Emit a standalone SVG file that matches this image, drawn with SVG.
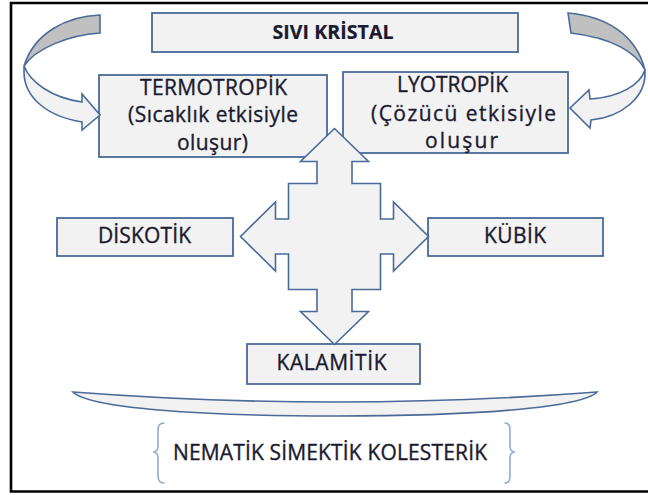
<svg xmlns="http://www.w3.org/2000/svg" width="648" height="495" viewBox="0 0 648 495">
<style>
.box{fill:#f2f2f2;stroke:#4a6a99;stroke-width:1.8}
.shape{fill:#f2f2f2;stroke:#4a6a99;stroke-width:1.6;stroke-linejoin:miter}
.back{fill:#c0c0c0;stroke:#4a6a99;stroke-width:1.6}
.t{font-family:"Open Sans","Noto Sans","Liberation Sans",sans-serif;font-size:21px;fill:#1c1a30;stroke:#1c1a30;stroke-width:0.35;text-anchor:middle}
.b{font-weight:bold;font-size:19.5px;stroke-width:0.2}
.brace{fill:none;stroke:#92acd2;stroke-width:1.6;stroke-linecap:round}
</style>
<rect x="0" y="0" width="648" height="495" fill="#ffffff"/>
<path d="M660,3 L11,3 L11,491.5 L660,491.5" fill="none" stroke="#000" stroke-width="2.6"/>

<g id="sivi-kristal">
<rect class="box" x="152" y="13" width="366" height="39"/>
<text class="t b" x="333" y="39" textLength="121" lengthAdjust="spacing">SIVI KRİSTAL</text>
</g>
<g id="termotropik">
<rect class="box" x="99" y="75" width="228" height="82"/>
<text class="t" x="213.5" y="95" textLength="147" lengthAdjust="spacing">TERMOTROPİK</text>
<text class="t" x="213" y="122" textLength="170" lengthAdjust="spacing">(Sıcaklık etkisiyle</text>
<text class="t" x="212.5" y="150" textLength="71" lengthAdjust="spacing">oluşur)</text>
</g>
<g id="lyotropik">
<rect class="box" x="343" y="72" width="225" height="81"/>
<text class="t" x="452.5" y="92" textLength="111" lengthAdjust="spacing">LYOTROPİK</text>
<text class="t" x="463.5" y="121" textLength="185" lengthAdjust="spacing">(Çözücü etkisiyle</text>
<text class="t" x="461.5" y="148" textLength="73" lengthAdjust="spacing">oluşur</text>
</g>
<g id="diskotik">
<rect class="box" x="57" y="218" width="176" height="38"/>
<text class="t" x="144.5" y="243" textLength="93" lengthAdjust="spacing">DİSKOTİK</text>
</g>
<g id="kubik">
<rect class="box" x="428" y="218" width="175" height="38"/>
<text class="t" x="515" y="243" textLength="62" lengthAdjust="spacing">KÜBİK</text>
</g>
<g id="kalamitik">
<rect class="box" x="247" y="344" width="173" height="40"/>
<text class="t" x="331.5" y="370" textLength="110" lengthAdjust="spacing">KALAMİTİK</text>
</g>

<g id="connectors">
<g id="curved-left">
<path class="back" d="M100,15 C67,16 34,33 24,66 C35,49 68,35 100,33 Z"/>
<path class="shape" d="M24,66 C30,82 52,98 82,102 L82,94 L100,115 L82,130 L82,122 C45,116 24,96 24,72 Z"/>
</g>
<g id="curved-right">
<path class="back" d="M568,13 C605,16 636,34 645,70 C636,52 612,38 571,33 Z"/>
<path class="shape" d="M645,70 C640,85 620,97 590,99 L589,90 L570,108 L590,128 L591,120 C622,117 646,97 645,72 Z"/>
</g>
<path id="quad-arrow" class="shape" d="M334.5,128.5 L368.5,161.5 L352,161.5 L352,183.5 L380.5,183.5 L380.5,219 L393.5,219 L393.5,202 L428.5,236.5 L393.5,271 L393.5,254 L380.5,254 L380.5,289.5 L352,289.5 L352,311.5 L368.5,311.5 L334.5,344.5 L300.5,311.5 L317,311.5 L317,289.5 L288.5,289.5 L288.5,254 L275.5,254 L275.5,271 L240.5,236.5 L275.5,202 L275.5,219 L288.5,219 L288.5,183.5 L317,183.5 L317,161.5 L300.5,161.5 Z"/>
</g>

<g id="ribbon">
<path class="shape" d="M73,392 Q335,412 597,392 C582,408 470,416 335,416 C200,416 88,408 73,392 Z"/>
</g>

<g id="subtypes">
<path class="brace" d="M164,423 Q158,423 158,430 L158,446 Q158,452 153,452 Q158,452 158,458 L158,476 Q158,483 164,483"/>
<path class="brace" d="M505,423 Q510,423 510,430 L510,446 Q510,452 515,452 Q510,452 510,458 L510,476 Q510,483 505,483"/>
<text class="t" x="330" y="460" style="font-size:21px" textLength="314" lengthAdjust="spacing">NEMATİK SİMEKTİK KOLESTERİK</text>
</g>
</svg>
